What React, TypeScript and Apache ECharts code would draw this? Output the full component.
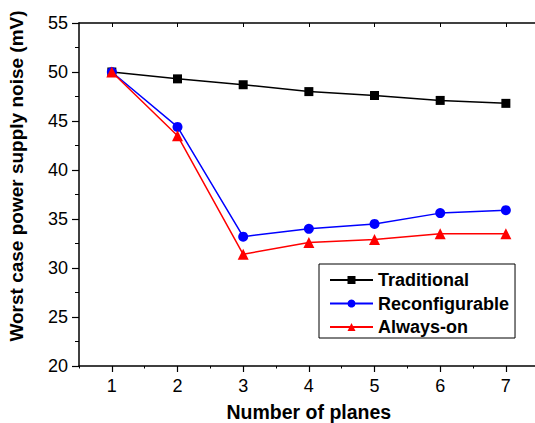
import React, { useEffect, useRef } from "react";
import * as echarts from "echarts";

// Number of power planes
const planes = ["1", "2", "3", "4", "5", "6", "7"];

// Worst case power supply noise (mV)
const traditional = [50, 49.3, 48.7, 48.0, 47.6, 47.1, 46.8];
const reconfigurable = [50, 44.4, 33.2, 34.0, 34.5, 35.6, 35.9];
const alwaysOn = [50, 43.5, 31.4, 32.6, 32.9, 33.5, 33.5];

const yTicks = { min: 20, max: 55, step: 5 };

const FONT = "'Liberation Sans', Arial, Helvetica, sans-serif";

export default function App() {
  const ref = useRef<HTMLDivElement>(null);

  useEffect(() => {
    if (!ref.current) return;
    const chart = echarts.init(ref.current, undefined, { renderer: "svg" });

    const axisLine = { show: true, lineStyle: { color: "#000", width: 1.5 } };
    const seriesLine = (
      name: string,
      data: number[],
      color: string,
      symbol: string,
      size: number
    ) => ({
      name,
      type: "line",
      data,
      symbol,
      symbolSize: size,
      showSymbol: true,
      lineStyle: { color, width: 1.5 },
      itemStyle: { color, borderWidth: 0 },
      emphasis: { disabled: true },
    });

    chart.setOption({
      animation: false,
      backgroundColor: "#fff",
      grid: {
        left: 79,
        top: 23,
        width: 459.7,
        height: 343,
        containLabel: false,
        outerBoundsMode: "none",
      },
      legend: {
        left: 319,
        top: 264,
        orient: "vertical",
        width: 196,
        padding: [7, 6, 2, 10],
        itemGap: 5.5,
        itemWidth: 43,
        itemHeight: 10,
        borderColor: "#000",
        borderWidth: 1,
        borderRadius: 0,
        backgroundColor: "#fff",
        textStyle: { fontFamily: FONT, fontSize: 18, fontWeight: "bold", color: "#000", padding: [0, 0, 0, 0] },
        data: ["Traditional", "Reconfigurable", "Always-on"],
      },
      xAxis: [
        {
          type: "category",
          data: planes,
          position: "bottom",
          boundaryGap: true,
          axisLine,
          axisTick: { show: true, alignWithLabel: true, length: 6, inside: false, lineStyle: { color: "#000", width: 1.2 } },
          axisLabel: { fontFamily: FONT, fontSize: 18, color: "#000", margin: 11 },
          splitLine: { show: false },
          name: "Number of planes",
          nameLocation: "middle",
          nameGap: 36,
          nameTextStyle: { fontFamily: FONT, fontSize: 19.5, fontWeight: "bold", color: "#000" },
        },
        {
          type: "category",
          data: planes,
          position: "top",
          boundaryGap: true,
          axisLine,
          axisTick: { show: true, alignWithLabel: true, length: 4, inside: true, lineStyle: { color: "#000", width: 1 } },
          axisLabel: { show: false },
          splitLine: { show: false },
        },
        {
          // half-step minor ticks along the bottom edge
          type: "value",
          min: 0.5,
          max: 7.5,
          interval: 0.5,
          position: "bottom",
          axisLine: { show: false },
          axisTick: { show: true, length: 2.5, lineStyle: { color: "#000", width: 1 } },
          axisLabel: { show: false },
          splitLine: { show: false },
        },
      ],
      yAxis: [
        {
          type: "value",
          min: yTicks.min,
          max: yTicks.max,
          interval: yTicks.step,
          axisLine,
          axisTick: { show: true, length: 7, lineStyle: { color: "#000", width: 1.2 } },
          minorTick: { show: true, splitNumber: 2, length: 4, lineStyle: { color: "#000", width: 1 } },
          axisLabel: { fontFamily: FONT, fontSize: 18, color: "#000", margin: 11 },
          splitLine: { show: false },
        },
      ],
      graphic: [
        {
          type: "text",
          x: 16,
          y: 176,
          rotation: Math.PI / 2,
          style: {
            text: "Worst case power supply noise (mV)",
            fontFamily: FONT,
            fontSize: 19,
            fontWeight: "bold",
            fill: "#000",
            textAlign: "center",
            textVerticalAlign: "middle",
          },
        },
      ],
      series: [
        seriesLine("Traditional", traditional, "#000000", "rect", 9),
        seriesLine("Reconfigurable", reconfigurable, "#0000ff", "circle", 10),
        seriesLine("Always-on", alwaysOn, "#ff0000", "triangle", 11),
      ],
    });

    return () => chart.dispose();
  }, []);

  return (
    <div
      ref={ref}
      style={{ position: "absolute", left: 0, top: 0, width: 535, height: 423, overflow: "hidden" }}
    />
  );
}
